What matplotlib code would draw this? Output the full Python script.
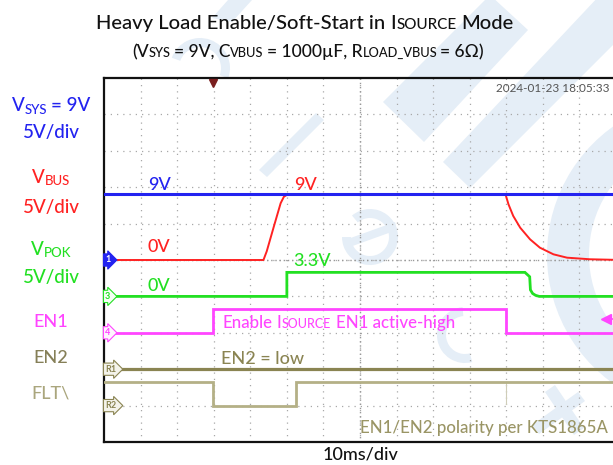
import matplotlib
matplotlib.use("Agg")
import matplotlib.pyplot as plt
from matplotlib.transforms import IdentityTransform
from matplotlib.patches import Polygon, Wedge

FONT = ['Lato', 'DejaVu Sans']
plt.rcParams['font.family'] = FONT

# ---------------- data (time in ms, volts) ----------------
t_vsys = [0, 140]
v_vsys = [9.0, 9.0]

t_vbus = [0, 43.6, 44.5, 46.5, 48.3, 49.2, 50.2, 109.8, 110.6, 111.9, 113.8, 116.5,
          119.2, 122.9, 126.6, 132.9, 140]
v_vbus = [0, 0, 1.2, 4.7, 7.8, 8.7, 9.0, 9.0, 7.65, 6.05, 4.44, 2.84,
          1.69, 0.78, 0.32, 0.10, 0.02]

t_vpok = [0, 50.0, 50.0, 115.1, 116.4, 116.6, 117.2, 118.0, 119.0, 140]
v_vpok = [0, 0, 3.3, 3.3, 2.7, 0.9, 0.4, 0.15, 0, 0]

t_en1 = [0, 29.8, 29.8, 109.9, 109.9, 140]
v_en1 = [0, 0, 3.3, 3.3, 0, 0]

t_en2 = [0, 140]
v_en2 = [0, 0]

t_flt = [0, 29.8, 29.8, 52.5, 52.5, 140]
v_flt = [3.3, 3.3, 0, 0, 3.3, 3.3]

VOLTS_PER_DIV = 5.0
# ground offsets (divisions from bottom of screen)
off_vsys, off_vbus, off_vpok, off_en1, off_en2, off_flt = 5.0, 5.0, 4.0, 3.0, 2.0, 1.0

C_BLUE = '#2323f0'
C_RED = '#ff2222'
C_GREEN = '#22e022'
C_MAG = '#ff45ff'
C_OLIVE = '#8a8452'
C_KHAKI = '#b4b086'

W, H = 613, 465
fig = plt.figure(figsize=(W / 100, H / 100), dpi=100)
fig.patch.set_facecolor('white')

# ---------------- watermark background ----------------
bg = fig.add_axes([0, 0, 1, 1], zorder=-5)
bg.set_xlim(0, W)
bg.set_ylim(H, 0)
bg.axis('off')
WM = '#e5eef7'
bg.add_patch(Wedge((200, 68), 30, 200, 20, width=9, color=WM, lw=0))
bg.add_patch(Polygon([(259, 170), (267, 177), (324, 120), (316, 113)], color=WM, lw=0))
bg.add_patch(Polygon([(383, 102), (424, 142), (528, 30), (490, -5)], color=WM, lw=0))
bg.add_patch(Polygon([(443, 162), (470, 188), (613, 45), (613, -5), (600, -5)], color=WM, lw=0))
bg.add_patch(Polygon([(228, 0), (252, 0), (232, 22), (212, 18)], color=WM, lw=0))
bg.add_patch(Wedge((705, 255), 158, 115, 245, width=42, color=WM, lw=0))
bg.add_patch(Wedge((370, 237), 28, 230, 180, width=9, color=WM, lw=0))
bg.add_patch(Polygon([(345, 240), (395, 222), (397, 230), (347, 248)], color=WM, lw=0))
bg.add_patch(Wedge((465, 335), 28, 75, 265, width=9, color=WM, lw=0))
bg.add_patch(Polygon([(545, 392), (555, 385), (584, 428), (574, 435)], color=WM, lw=0))
bg.add_patch(Polygon([(532, 425), (578, 392), (585, 401), (539, 434)], color=WM, lw=0))

# ---------------- scope screen ----------------
ax = fig.add_axes([104 / W, (H - 442) / H, 512 / W, 364 / H])
ax.set_facecolor('none')
ax.set_xlim(0, 140)
ax.set_ylim(0, 10)
ax.set_xticks([])
ax.set_yticks([])
for s in ['left', 'top', 'bottom']:
    ax.spines[s].set_linewidth(1.6)
    ax.spines[s].set_color('#111111')
ax.spines['right'].set_visible(False)

GRID = '#a8a8a8'
for gx in range(10, 140, 10):
    ax.axvline(gx, color=GRID, lw=0.9, ls=(0, (1, 4)), zorder=1)
for gy in range(1, 10):
    ax.axhline(gy, color=GRID, lw=0.9, ls=(0, (1, 4)), zorder=1)
ax.axvline(70, color='#999999', lw=1.0, ls=(0, (1, 2)), zorder=1)
ax.axhline(5, color='#999999', lw=1.0, ls=(0, (1, 2)), zorder=1)


def tr(v, off):
    return [off + x / VOLTS_PER_DIV for x in v]


ax.plot(t_flt, tr(v_flt, off_flt), color=C_KHAKI, lw=2.0, zorder=3, solid_joinstyle='miter')
ax.plot([109.9, 109.9], [off_flt + 0.05, off_flt + 3.25 / 5], color='#cfcdb8', lw=0.8, zorder=2)
ax.plot(t_en2, tr(v_en2, off_en2), color=C_OLIVE, lw=2.3, zorder=3)
ax.plot(t_en1, tr(v_en1, off_en1), color=C_MAG, lw=2.0, zorder=3, solid_joinstyle='miter')
ax.plot(t_vpok, tr(v_vpok, off_vpok), color=C_GREEN, lw=2.0, zorder=3, solid_joinstyle='miter')
ax.plot(t_vbus, tr(v_vbus, off_vbus), color=C_RED, lw=1.4, zorder=3)
ax.plot(t_vsys, tr(v_vsys, off_vsys), color=C_BLUE, lw=2.2, zorder=4)

markers = [("1", off_vbus, C_BLUE, C_BLUE, 'white'),
           ("3", off_vpok, C_GREEN, '#f4fff4', C_GREEN),
           ("4", off_en1, C_MAG, '#fff4ff', C_MAG),
           ("R1", off_en2, C_OLIVE, '#f4f3ea', C_OLIVE),
           ("R2", off_flt, C_OLIVE, '#f4f3ea', C_OLIVE)]
for lab, yy, ec, fc, tc in markers:
    ax.text(0.3, yy, lab, fontsize=6.5, color=tc, ha='left', va='center', fontweight='bold',
            zorder=6, bbox=dict(boxstyle='rarrow,pad=0.18', fc=fc, ec=ec, lw=0.8))

ax.plot([29.8], [9.87], marker='v', ms=6, color='#7a1e1e', zorder=6, clip_on=False)
ax.plot([137.3], [off_en1 + 1.9 / 5], marker='<', ms=7, color=C_MAG, zorder=6, clip_on=False)
ax.plot([137.3, 141], [off_en1 + 1.9 / 5] * 2, color=C_MAG, lw=1.2, zorder=6, clip_on=False)

fig.canvas.draw()
renderer = fig.canvas.get_renderer()
WEIGHT = 500


def rich(pieces, x, ybase, ha='center', weight=WEIGHT):
    """pieces: (text, size, drop_px, color, gap_after_px). x, ybase in top-left pixel coords."""
    objs = []
    total = 0
    for s, size, drop, color, gap in pieces:
        t = fig.text(0, 0, s, fontsize=size, color=color, transform=IdentityTransform(),
                     ha='left', va='baseline', zorder=10, fontweight=weight)
        w = t.get_window_extent(renderer).width
        objs.append((t, drop, w, gap))
        total += w + gap
    total -= objs[-1][3]
    x0 = x - total / 2 if ha == 'center' else (x - total if ha == 'right' else x)
    for t, drop, w, gap in objs:
        t.set_position((x0, H - (ybase + drop)))
        x0 += w + gap


BLACK = '#111111'
rich([("Heavy Load Enable/Soft-Start in", 14.6, 0, BLACK, 5),
      ("I", 14.6, 0, BLACK, 0), ("SOURCE", 11, 0, BLACK, 5),
      ("Mode", 14.6, 0, BLACK, 0)], 305, 29)
rich([("(V", 12.6, 0, BLACK, 0), ("SYS", 9.3, 0, BLACK, 3),
      ("= 9V, C", 12.6, 0, BLACK, 0), ("VBUS", 9.3, 0, BLACK, 3),
      ("= 1000µF, R", 12.6, 0, BLACK, 0), ("LOAD_VBUS", 9.3, 0, BLACK, 3),
      ("= 6Ω)", 12.6, 0, BLACK, 0)], 308, 57)

rich([("V", 13.5, 0, C_BLUE, 0), ("SYS", 9.5, 3, C_BLUE, 4), ("= 9V", 13.5, 0, C_BLUE, 0)], 51, 111)
rich([("5V/div", 13.5, 0, C_BLUE, 0)], 51, 138)
rich([("V", 13.5, 0, C_RED, 0), ("BUS", 9.5, 2, C_RED, 0)], 51, 183)
rich([("5V/div", 13.5, 0, C_RED, 0)], 51, 213)
rich([("V", 13.5, 0, C_GREEN, 0), ("POK", 9.5, 2, C_GREEN, 0)], 51, 255)
rich([("5V/div", 13.5, 0, C_GREEN, 0)], 51, 283)
rich([("EN1", 13, 0, C_MAG, 0)], 51, 327)
rich([("EN2", 13, 0, '#857f57', 0)], 51, 363)
rich([("FLT\\", 13, 0, '#aaa67d', 0)], 51, 398)

rich([("9V", 13, 0, C_BLUE, 0)], 148, 190, ha='left')
rich([("9V", 13, 0, C_RED, 0)], 294, 190, ha='left')
rich([("0V", 13, 0, C_RED, 0)], 148, 252, ha='left')
rich([("3.3V", 13, 0, C_GREEN, 0)], 293, 266, ha='left')
rich([("0V", 13, 0, C_GREEN, 0)], 148, 291, ha='left')
rich([("Enable", 12.2, 0, C_MAG, 5), ("I", 12.2, 0, C_MAG, 0), ("SOURCE", 9, 0, C_MAG, 5),
      ("EN1 active-high", 12.2, 0, C_MAG, 0)], 222, 328, ha='left')
rich([("EN2 = low", 13, 0, C_OLIVE, 0)], 221, 364, ha='left')
rich([("EN1/EN2 polarity per KTS1865A", 12.2, 0, '#9a9565', 0)], 608, 433, ha='right')
rich([("2024-01-23 18:05:33", 8.5, 0, '#555555', 0)], 609, 92, ha='right', weight='normal')

rich([("10ms/div", 13, 0, BLACK, 0)], 360, 459)

fig.savefig('out.png', dpi=100, facecolor='white')
